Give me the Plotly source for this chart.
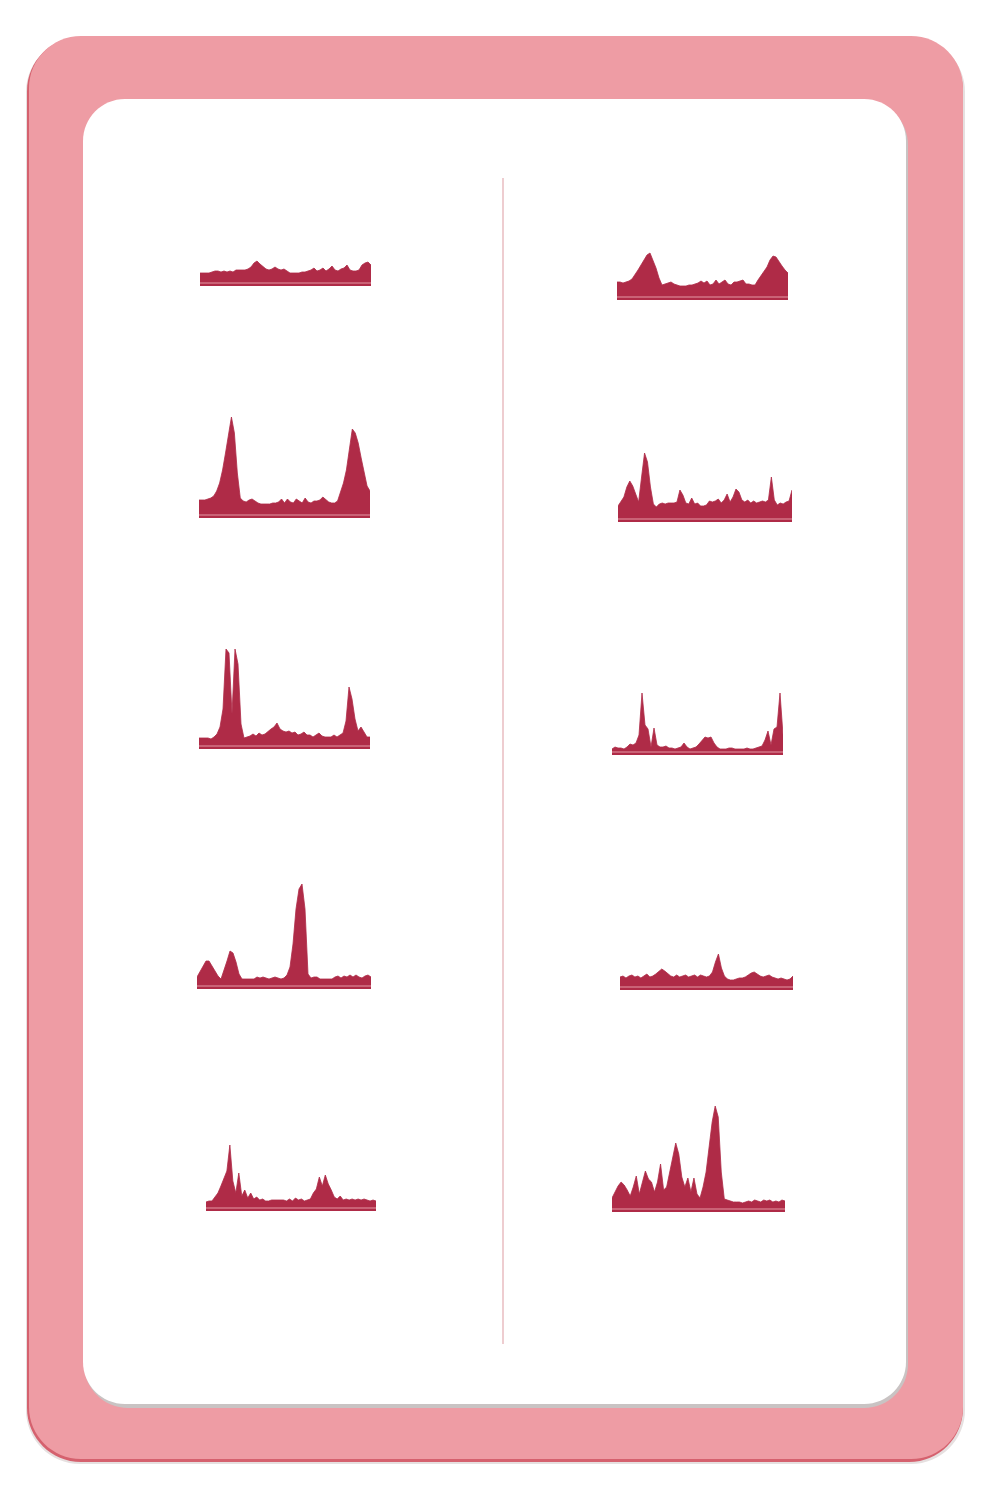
import plotly.graph_objects as go

# ---------------- data (heights of each sparkline) ----------------
left_1 = [13, 13, 13, 13, 14, 15, 15, 14, 15, 14, 15, 14, 16, 16, 16, 16, 17, 19, 23, 25,
          22, 19, 17, 16, 17, 19, 17, 16, 17, 15, 13, 13, 13, 13, 14, 14, 15, 16, 18, 15,
          16, 18, 15, 17, 20, 16, 15, 17, 18, 21, 16, 15, 15, 16, 21, 23, 24, 21]
right_1 = [18, 18, 17, 18, 19, 21, 25, 30, 35, 40, 45, 47, 40, 32, 22, 15, 16, 17, 18, 16,
           15, 14, 14, 14, 15, 15, 16, 17, 19, 17, 19, 15, 16, 20, 16, 18, 20, 16, 15, 18,
           18, 19, 20, 16, 16, 15, 15, 20, 24, 28, 33, 40, 44, 43, 38, 34, 30, 27]
left_2 = [18, 18, 18, 19, 20, 22, 27, 35, 48, 65, 85, 101, 85, 45, 20, 17, 16, 18, 19, 17,
          15, 14, 14, 14, 14, 15, 15, 16, 19, 15, 19, 16, 15, 19, 17, 15, 20, 16, 15, 17,
          17, 18, 21, 18, 16, 15, 15, 17, 25, 35, 48, 70, 89, 85, 75, 60, 45, 32, 27]
right_2 = [16, 20, 25, 35, 41, 36, 28, 20, 45, 69, 60, 35, 18, 15, 18, 19, 18, 19, 19, 19,
           20, 32, 27, 19, 18, 24, 18, 19, 16, 16, 17, 21, 20, 21, 23, 19, 22, 28, 20, 25,
           33, 30, 22, 20, 22, 19, 21, 19, 20, 21, 20, 22, 45, 22, 17, 19, 18, 20, 21, 32]
left_3 = [11, 11, 11, 11, 10, 12, 15, 22, 40, 100, 96, 35, 100, 85, 25, 11, 12, 13, 15, 13,
          16, 14, 15, 18, 20, 22, 26, 20, 18, 17, 18, 16, 17, 14, 15, 17, 14, 14, 12, 14,
          16, 13, 12, 12, 12, 14, 12, 14, 16, 28, 62, 50, 30, 18, 22, 17, 12, 12]
right_3 = [6, 8, 7, 7, 6, 8, 11, 10, 12, 20, 62, 30, 26, 8, 27, 10, 8, 8, 9, 7,
           7, 6, 7, 8, 12, 8, 6, 7, 8, 11, 14, 18, 17, 18, 12, 8, 6, 6, 6, 7,
           7, 6, 6, 6, 6, 7, 6, 6, 7, 8, 9, 15, 24, 10, 26, 28, 62, 20]
left_4 = [12, 17, 23, 28, 28, 23, 18, 13, 10, 18, 28, 38, 36, 27, 15, 10, 10, 10, 10, 10,
          12, 11, 12, 11, 10, 11, 12, 11, 10, 11, 14, 22, 45, 80, 100, 105, 80, 15, 11, 12,
          12, 10, 10, 10, 10, 10, 12, 13, 11, 13, 12, 14, 12, 14, 12, 11, 13, 14, 12]
right_4 = [13, 14, 12, 14, 15, 13, 14, 12, 14, 16, 13, 14, 16, 19, 21, 19, 16, 14, 13, 15,
           13, 14, 15, 13, 14, 15, 13, 15, 14, 13, 14, 18, 28, 36, 22, 14, 11, 10, 10, 11,
           12, 12, 13, 15, 17, 18, 16, 14, 13, 14, 15, 13, 12, 11, 12, 11, 10, 11, 14]
left_5 = [9, 10, 10, 14, 18, 25, 32, 40, 66, 30, 18, 38, 15, 21, 13, 18, 12, 14, 11, 12,
          10, 10, 11, 11, 11, 11, 11, 10, 12, 10, 13, 11, 12, 10, 11, 12, 18, 22, 34, 25,
          36, 27, 21, 14, 12, 15, 11, 12, 11, 12, 11, 12, 11, 12, 11, 10, 11, 10]
right_5 = [14, 20, 26, 30, 27, 22, 16, 25, 36, 18, 30, 41, 33, 30, 20, 30, 48, 22, 25, 40,
           55, 69, 58, 35, 25, 34, 20, 34, 18, 14, 25, 40, 65, 90, 106, 95, 40, 13, 12, 11,
           10, 10, 10, 9, 10, 11, 10, 12, 11, 10, 12, 11, 12, 10, 11, 10, 12, 11]

series = [left_1, right_1, left_2, right_2, left_3, right_3, left_4, right_4, left_5, right_5]

# ---------------- layout (pixel placement of each sparkline: left, right, bottom) ----------------
W, H = 1000, 1508
boxes = [
    (200, 371, 286), (617, 788, 300),
    (199, 370, 518), (618, 792, 522),
    (199, 370, 749), (612, 783, 755),
    (197, 371, 989), (620, 793, 990),
    (206, 376, 1211), (612, 785, 1212),
]
FILL = "#AF2B47"
BASELINE = "#E59AA6"
PINK = "#EE9CA4"
PINK_EDGE = "#D5616E"


def px(x):
    return x / W


def py(y):
    return 1 - y / H


def rounded(x0, y0, x1, y1, r):
    k = 0.5523 * r
    pts = [
        f"M {px(x0 + r)},{py(y0)}",
        f"L {px(x1 - r)},{py(y0)}",
        f"C {px(x1 - r + k)},{py(y0)} {px(x1)},{py(y0 + r - k)} {px(x1)},{py(y0 + r)}",
        f"L {px(x1)},{py(y1 - r)}",
        f"C {px(x1)},{py(y1 - r + k)} {px(x1 - r + k)},{py(y1)} {px(x1 - r)},{py(y1)}",
        f"L {px(x0 + r)},{py(y1)}",
        f"C {px(x0 + r - k)},{py(y1)} {px(x0)},{py(y1 - r + k)} {px(x0)},{py(y1 - r)}",
        f"L {px(x0)},{py(y0 + r)}",
        f"C {px(x0)},{py(y0 + r - k)} {px(x0 + r - k)},{py(y0)} {px(x0 + r)},{py(y0)}",
        "Z",
    ]
    return " ".join(pts)


fig = go.Figure()
layout = dict(
    width=W, height=H, margin=dict(l=0, r=0, t=0, b=0),
    paper_bgcolor="white", plot_bgcolor="rgba(0,0,0,0)", showlegend=False,
)
shapes = []

# card frame
shapes.append(dict(type="path", path=rounded(26, 38, 965, 1464, 54), xref="paper", yref="paper",
                   fillcolor="#E6E0E0", line=dict(width=0), layer="below"))
shapes.append(dict(type="path", path=rounded(27, 37, 963, 1462, 54), xref="paper", yref="paper",
                   fillcolor=PINK_EDGE, line=dict(width=0), layer="below"))
shapes.append(dict(type="path", path=rounded(29, 36, 963, 1459, 52), xref="paper", yref="paper",
                   fillcolor=PINK, line=dict(width=0), layer="below"))
shapes.append(dict(type="path", path=rounded(84, 101, 908, 1408, 44), xref="paper", yref="paper",
                   fillcolor="#C9C3C3", line=dict(width=0), layer="below"))
shapes.append(dict(type="path", path=rounded(83, 99, 906, 1404, 42), xref="paper", yref="paper",
                   fillcolor="#FFFFFF", line=dict(width=0), layer="below"))
# divider
shapes.append(dict(type="line", xref="paper", yref="paper", x0=px(503), x1=px(503),
                   y0=py(178), y1=py(1344), line=dict(color="#E8BCC1", width=1.5), layer="below"))

for i, (vals, (x0, x1, bottom)) in enumerate(zip(series, boxes), start=1):
    n = len(vals)
    top = max(vals) + 6
    xa = "xaxis" if i == 1 else f"xaxis{i}"
    ya = "yaxis" if i == 1 else f"yaxis{i}"
    xr = "x" if i == 1 else f"x{i}"
    yr = "y" if i == 1 else f"y{i}"
    layout[xa] = dict(domain=[px(x0), px(x1)], range=[0, n - 1], visible=False,
                      fixedrange=True, anchor=yr)
    layout[ya] = dict(domain=[py(bottom), py(bottom - top)], range=[0, top], visible=False,
                      fixedrange=True, anchor=xr)
    fig.add_trace(go.Scatter(x=list(range(n)), y=vals, xaxis=xr, yaxis=yr, mode="lines",
                             line=dict(width=0.8, color=FILL), fill="tozeroy",
                             fillcolor=FILL, hoverinfo="skip"))
    shapes.append(dict(type="line", xref=xr, yref=yr, x0=0, x1=n - 1, y0=3, y1=3,
                       line=dict(color=BASELINE, width=1.2), layer="above"))

layout["shapes"] = shapes
fig.update_layout(**layout)
fig.write_html("out.html")
